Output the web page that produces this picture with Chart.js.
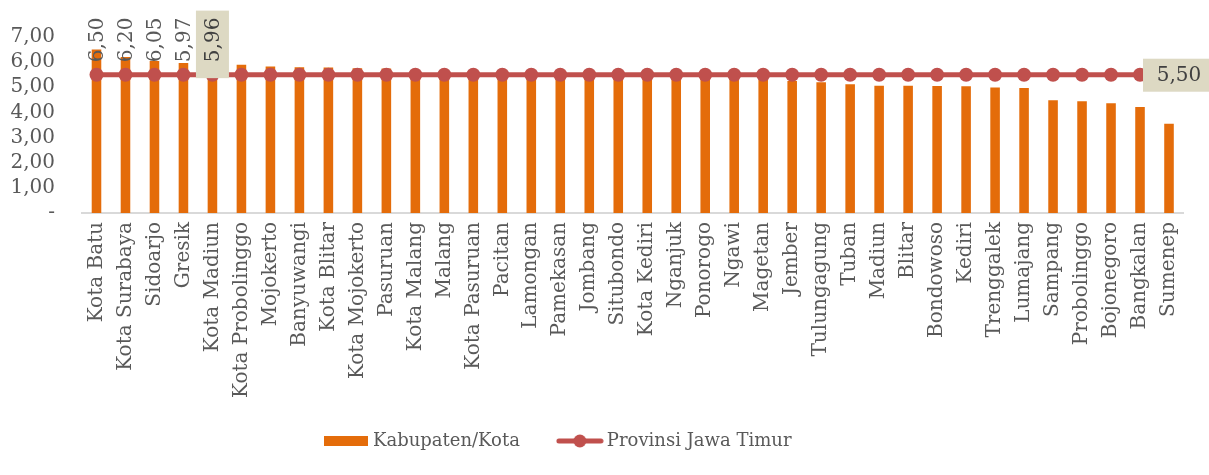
<!DOCTYPE html>
<html>
<head>
<meta charset="utf-8">
<script src="https://cdn.jsdelivr.net/npm/chart.js@4.4.1/dist/chart.umd.min.js"></script>
<style>
  html, body { margin: 0; padding: 0; background: #fff; }
  #wrap { width: 1209px; height: 475px; position: relative; }
</style>
</head>
<body>
<div id="wrap"><canvas id="chart"></canvas></div>
<script>
(() => {
  'use strict';

  // ---------- data ----------

  const CATEGORIES = [
    'Kota Batu', 'Kota Surabaya', 'Sidoarjo', 'Gresik', 'Kota Madiun',
    'Kota Probolinggo', 'Mojokerto', 'Banyuwangi', 'Kota Blitar', 'Kota Mojokerto',
    'Pasuruan', 'Kota Malang', 'Malang', 'Kota Pasuruan', 'Pacitan',
    'Lamongan', 'Pamekasan', 'Jombang', 'Situbondo', 'Kota Kediri',
    'Nganjuk', 'Ponorogo', 'Ngawi', 'Magetan', 'Jember',
    'Tulungagung', 'Tuban', 'Madiun', 'Blitar', 'Bondowoso',
    'Kediri', 'Trenggalek', 'Lumajang', 'Sampang', 'Probolinggo',
    'Bojonegoro', 'Bangkalan', 'Sumenep',
  ];

  const KABUPATEN_KOTA = [
    6.50, 6.20, 6.05, 5.97, 5.96,
    5.90, 5.83, 5.80, 5.79, 5.76,
    5.75, 5.66, 5.63, 5.60, 5.57,
    5.55, 5.52, 5.50, 5.46, 5.44,
    5.41, 5.38, 5.35, 5.30, 5.25,
    5.20, 5.12, 5.06, 5.06, 5.05,
    5.04, 4.99, 4.97, 4.48, 4.44,
    4.37, 4.22, 3.55,
  ];

  const PROVINSI = [
    5.50, 5.50, 5.50, 5.50, 5.50, 5.50, 5.50, 5.50, 5.50, 5.50,
    5.50, 5.50, 5.50, 5.50, 5.50, 5.50, 5.50, 5.50, 5.50, 5.50,
    5.50, 5.50, 5.50, 5.50, 5.50, 5.50, 5.50, 5.50, 5.50, 5.50,
    5.50, 5.50, 5.50, 5.50, 5.50, 5.50, 5.50, 5.50,
  ];

  const SERIES_NAMES = ['Kabupaten/Kota', 'Provinsi Jawa Timur'];
  const LABELLED_BARS = [0, 1, 2, 3, 4];   // bars that carry a value label
  const BOXED_BAR = 4;                     // the one whose label sits in a box
  const LABEL_BASE = 6.0;                  // value level where rotated labels start

  // ---------- style ----------

  const FONT = '"DejaVu Serif", serif';
  const TEXT = '#595959';
  const BAR_COLOR = '#E46C0A';
  const LINE_COLOR = '#C0504D';
  const BOX_COLOR = '#DDD9C3';
  const LEGEND_SHIFT = -32;   // legend sits a bit left of centre in the original

  const fmt = v => v.toFixed(2).replace('.', ',');

  // ---------- legend swatches ----------

  function barSwatch() {
    const c = document.createElement('canvas');
    c.width = 44; c.height = 10;
    const g = c.getContext('2d');
    g.fillStyle = BAR_COLOR;
    g.fillRect(0, 0, 44, 10);
    return c;
  }

  function lineSwatch() {
    const c = document.createElement('canvas');
    c.width = 48; c.height = 14;
    const g = c.getContext('2d');
    g.strokeStyle = LINE_COLOR;
    g.lineWidth = 5;
    g.lineCap = 'round';
    g.beginPath(); g.moveTo(3, 7); g.lineTo(45, 7); g.stroke();
    g.fillStyle = LINE_COLOR;
    g.beginPath(); g.arc(24, 7, 6.5, 0, Math.PI * 2); g.fill();
    return c;
  }

  const swatches = [barSwatch(), lineSwatch()];

  // ---------- plugins ----------

  const legendShift = {
    id: 'legendShift',
    afterLayout(chart) {
      const lg = chart.legend;
      if (!lg) return;
      lg.left += LEGEND_SHIFT;
      lg.right += LEGEND_SHIFT;
    },
  };

  const valueLabels = {
    id: 'valueLabels',
    afterDatasetsDraw(chart) {
      const ctx = chart.ctx;
      const y = chart.scales.y;
      const bars = chart.getDatasetMeta(0).data;
      const pts = chart.getDatasetMeta(1).data;
      const base = y.getPixelForValue(LABEL_BASE);
      ctx.save();
      ctx.font = '20px ' + FONT;

      for (const i of LABELLED_BARS) {
        const bar = bars[i];
        const txt = fmt(KABUPATEN_KOTA[i]);
        const w = ctx.measureText(txt).width;
        if (i === BOXED_BAR) {
          ctx.fillStyle = BOX_COLOR;
          ctx.fillRect(bar.x - 16.5, base - w - 7, 33, w + 23);
        }
        ctx.save();
        ctx.translate(bar.x, base);
        ctx.rotate(-Math.PI / 2);
        ctx.textAlign = 'left';
        ctx.textBaseline = 'middle';
        ctx.fillStyle = i === BOXED_BAR ? '#404040' : TEXT;
        ctx.fillText(txt, 0, 1);
        ctx.restore();
      }

      // last point of the province line
      const last = pts[pts.length - 1];
      ctx.fillStyle = BOX_COLOR;
      ctx.fillRect(last.x - 26, last.y - 16, 70, 33);
      ctx.fillStyle = '#404040';
      ctx.textAlign = 'center';
      ctx.textBaseline = 'middle';
      ctx.fillText(fmt(PROVINSI[PROVINSI.length - 1]), last.x + 10, last.y + 1);
      ctx.restore();
    },
  };

  // ---------- chart ----------

  new Chart(document.getElementById('chart'), {
    data: {
      labels: CATEGORIES,
      datasets: [
        {
          type: 'bar',
          label: SERIES_NAMES[0],
          data: KABUPATEN_KOTA,
          backgroundColor: BAR_COLOR,
          barPercentage: 0.33,
          categoryPercentage: 1,
          order: 2,
        },
        {
          type: 'line',
          label: SERIES_NAMES[1],
          data: PROVINSI,
          borderColor: LINE_COLOR,
          borderWidth: 5,
          pointRadius: 7,
          pointBackgroundColor: LINE_COLOR,
          pointBorderWidth: 0,
          order: 1,
        },
      ],
    },
    options: {
      responsive: true,
      maintainAspectRatio: false,
      animation: false,
      layout: { padding: { top: 37, right: 25.5, left: 0, bottom: 15 } },
      plugins: {
        tooltip: { enabled: false },
        legend: {
          position: 'bottom',
          labels: {
            usePointStyle: true,
            pointStyleWidth: 36,
            padding: 42,
            color: TEXT,
            font: { family: FONT, size: 18 },
            generateLabels: chart => chart.data.datasets.map((ds, i) => ({
              text: ds.label,
              pointStyle: swatches[i],
              fontColor: TEXT,
              fillStyle: 'transparent',
              strokeStyle: 'transparent',
              lineWidth: 0,
              hidden: false,
              datasetIndex: i,
            })),
          },
        },
      },
      scales: {
        x: {
          grid: { display: false },
          border: { display: true, color: '#D9D9D9', width: 2 },
          ticks: {
            minRotation: 90,
            maxRotation: 90,
            autoSkip: false,
            padding: 1,
            color: TEXT,
            font: { family: FONT, size: 20 },
          },
          afterFit(scale) {
            scale.height = 177;
            // long names run past the axis box; don't clip them
            scale._computeLabelArea = () => null;
          },
        },
        y: {
          min: 0,
          max: 7,
          grid: { display: false },
          border: { display: false },
          ticks: {
            stepSize: 1,
            autoSkip: false,
            padding: 19,
            color: TEXT,
            font: { family: FONT, size: 20 },
            callback: v => (v === 0 ? '-' : fmt(v)),
          },
          afterFit(scale) { scale.width = 82; },
        },
      },
    },
    plugins: [legendShift, valueLabels],
  });
})();
</script>
</body>
</html>
